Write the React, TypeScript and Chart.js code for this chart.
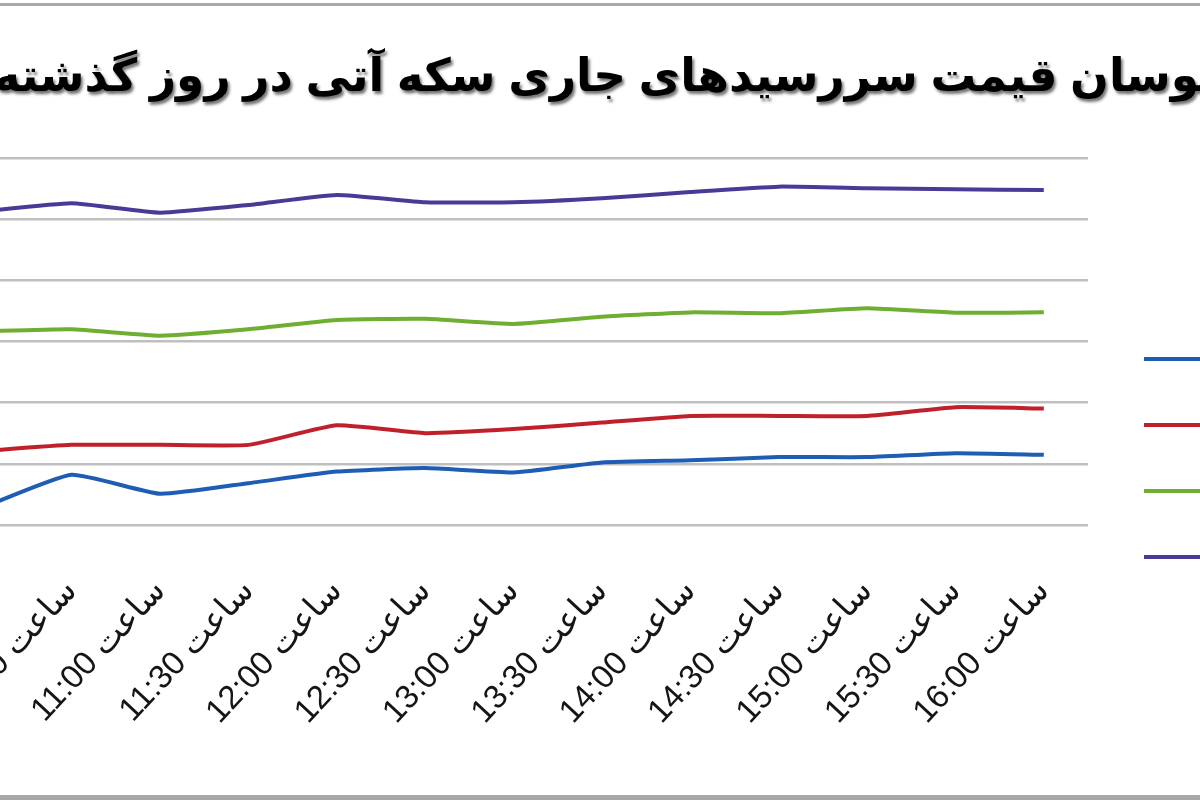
import React, { useEffect, useRef } from "react";
import { Chart, registerables } from "chart.js";

Chart.register(...registerables);

const TITLE = "نوسان قیمت سررسیدهای جاری سکه آتی در روز گذشته";

const TIME_LABELS = [
  "ساعت 10:00",
  "ساعت 10:30",
  "ساعت 11:00",
  "ساعت 11:30",
  "ساعت 12:00",
  "ساعت 12:30",
  "ساعت 13:00",
  "ساعت 13:30",
  "ساعت 14:00",
  "ساعت 14:30",
  "ساعت 15:00",
  "ساعت 15:30",
  "ساعت 16:00",
];

const SERIES_NAMES = ["سررسید آذر", "سررسید دی", "سررسید بهمن", "سررسید اسفند"];

const BLUE_VALUES = [1064400, 1091000, 1075500, 1084200, 1093700, 1096500, 1092900, 1101100, 1102900, 1105500, 1105500, 1108700, 1107400];
const RED_VALUES = [1110500, 1115500, 1115500, 1115500, 1131500, 1125100, 1128400, 1133700, 1139200, 1139200, 1139200, 1146300, 1145200];
const GREEN_VALUES = [1208300, 1210000, 1204800, 1210000, 1217600, 1218500, 1214400, 1220300, 1223800, 1223100, 1227200, 1223600, 1223900];
const PURPLE_VALUES = [1306300, 1313000, 1305300, 1311600, 1319800, 1313800, 1313800, 1317100, 1322200, 1326600, 1325300, 1324400, 1323900];

const SERIES_COLORS = ["#1F5CB4", "#C0202A", "#6EAE30", "#4A3A96"];

const Y_MIN = 1050000;
const Y_MAX = 1350000;
const Y_STEP = 50000;

const FONT_FAMILY = "'Liberation Sans', 'DejaVu Sans', Arial, sans-serif";

export default function App() {
  const canvasRef = useRef<HTMLCanvasElement>(null);

  useEffect(() => {
    const canvas = canvasRef.current;
    if (!canvas) return;
    const seriesValues = [BLUE_VALUES, RED_VALUES, GREEN_VALUES, PURPLE_VALUES];

    const titleShadow = {
      id: "titleShadow",
      beforeDraw(chart: any) {
        const tb = chart.titleBlock;
        if (tb && !tb.__shadowPatched) {
          const orig = tb.draw.bind(tb);
          tb.draw = (...args: any[]) => {
            const ctx = chart.ctx;
            ctx.save();
            ctx.shadowColor = "rgba(0,0,0,0.55)";
            ctx.shadowOffsetX = 2;
            ctx.shadowOffsetY = 3;
            ctx.shadowBlur = 3;
            orig(...args);
            ctx.restore();
          };
          tb.__shadowPatched = true;
        }
      },
    };

    const chart = new Chart(canvas, {
      type: "line",
      data: {
        labels: TIME_LABELS,
        datasets: SERIES_NAMES.map((name, i) => ({
          label: name,
          data: seriesValues[i],
          borderColor: SERIES_COLORS[i],
          backgroundColor: SERIES_COLORS[i],
          borderWidth: 4,
          pointRadius: 0,
          pointHoverRadius: 0,
          tension: 0.15,
          fill: false,
        })),
      },
      options: {
        responsive: false,
        animation: false,
        devicePixelRatio: 1,
        layout: { padding: { left: 0, right: 0, top: 0, bottom: 0 } },
        plugins: {
          title: {
            display: true,
            text: TITLE,
            color: "#000",
            font: { family: FONT_FAMILY, size: 45.5, weight: "bold" },
            padding: { top: 50.7, bottom: 52.7 },
          },
          legend: {
            position: "right",
            align: "center",
            maxWidth: 322,
            labels: {
              usePointStyle: true,
              pointStyle: "line",
              pointStyleWidth: 260,
              padding: 56,
              color: "#000",
              font: { family: FONT_FAMILY, size: 10 },
            },
          },
          tooltip: { enabled: false },
        },
        scales: {
          x: {
            offset: true,
            grid: {
              display: true,
              drawOnChartArea: false,
              drawTicks: true,
              tickLength: 42,
              color: "rgba(0,0,0,0)",
            },
            border: { display: false },
            ticks: {
              autoSkip: false,
              minRotation: 47,
              maxRotation: 47,
              padding: 5,
              color: "#151515",
              font: { family: FONT_FAMILY, size: 33 },
              callback: (_v: any, i: number) => "\u202B" + TIME_LABELS[i] + "\u202C",
            },
            afterFit: (s: any) => {
              s.height = 391;
            },
          },
          y: {
            min: Y_MIN,
            max: Y_MAX,
            ticks: {
              stepSize: Y_STEP,
              color: "#111",
              font: { family: FONT_FAMILY, size: 20 },
              callback: (v: any) => Number(v).toLocaleString("en-US"),
            },
            grid: { color: "#BFBFBF", lineWidth: 2.5, drawTicks: false },
            border: { display: false },
            afterFit: (s: any) => {
              s.width = 139;
            },
          },
        },
      },
      plugins: [titleShadow],
    } as any);

    return () => chart.destroy();
  }, []);

  return (
    <div
      style={{
        position: "fixed",
        left: 0,
        top: 0,
        width: 1200,
        height: 800,
        overflow: "hidden",
        background: "#fff",
      }}
    >
      <canvas
        ref={canvasRef}
        width={1610}
        height={916}
        style={{ position: "absolute", left: -200, top: 0, display: "block" }}
      />
      <div style={{ position: "absolute", left: 0, top: 3, width: 1200, height: 3, background: "#a8a8a8" }} />
      <div style={{ position: "absolute", left: 0, top: 795, width: 1200, height: 5, background: "#a8a8a8" }} />
    </div>
  );
}
